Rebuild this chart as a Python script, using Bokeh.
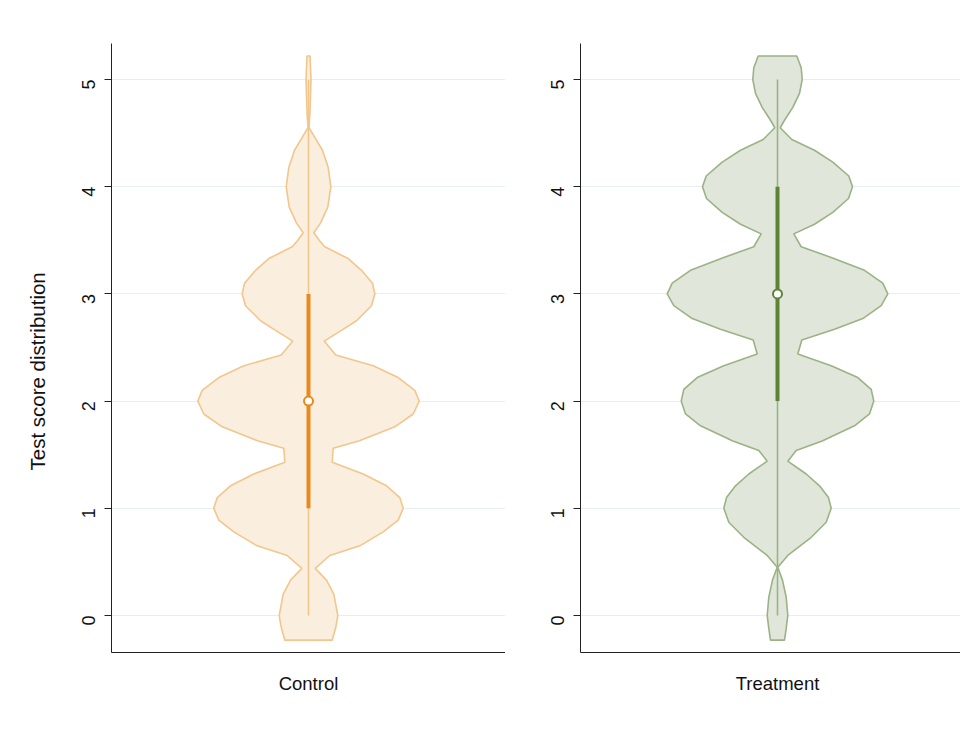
import math
from bokeh.plotting import figure
from bokeh.layouts import row
from bokeh.models import Range1d, FixedTicker, Title
from bokeh.embed import file_html
from bokeh.resources import INLINE

# ---- data ----
groups = ["Control", "Treatment"]
y_ticks = [0, 1, 2, 3, 4, 5]
y_title = "Test score distribution"

# violin outline: score value and kernel density (half width, arbitrary units)
control_y = [-0.23, -0.11, 0.0, 0.20, 0.33, 0.44, 0.56, 0.65, 0.78, 0.89, 1.0, 1.10, 1.21, 1.32,
             1.43, 1.56, 1.63, 1.76, 1.88, 2.0, 2.10, 2.22, 2.33, 2.43, 2.56, 2.66, 2.75, 2.89,
             3.0, 3.10, 3.22, 3.33, 3.44, 3.50, 3.57, 3.66, 3.81, 4.0, 4.18, 4.34, 4.46, 4.55,
             4.70, 5.0, 5.22]
control_dens = [0.237, 0.273, 0.293, 0.253, 0.180, 0.067, 0.213, 0.513, 0.747, 0.897, 0.947,
                0.913, 0.780, 0.547, 0.237, 0.247, 0.510, 0.863, 1.047, 1.107, 1.063, 0.897,
                0.647, 0.273, 0.157, 0.330, 0.480, 0.630, 0.663, 0.640, 0.530, 0.397, 0.163,
                0.107, 0.053, 0.120, 0.193, 0.223, 0.197, 0.140, 0.063, 0.005, 0.015, 0.025,
                0.015]

treat_y = [-0.23, -0.12, 0.0, 0.17, 0.33, 0.45, 0.56, 0.73, 0.87, 1.0, 1.10, 1.21, 1.32, 1.44,
           1.54, 1.63, 1.66, 1.77, 1.88, 2.0, 2.11, 2.22, 2.33, 2.44, 2.57, 2.67, 2.77, 2.89,
           3.0, 3.10, 3.22, 3.34, 3.44, 3.56, 3.65, 3.76, 3.89, 4.0, 4.10, 4.23, 4.34, 4.44,
           4.55, 4.62, 4.74, 4.87, 5.0, 5.11, 5.22]
treat_dens = [0.070, 0.087, 0.103, 0.087, 0.050, 0.003, 0.103, 0.337, 0.487, 0.537, 0.510,
              0.420, 0.287, 0.103, 0.187, 0.453, 0.520, 0.770, 0.920, 0.963, 0.937, 0.803,
              0.537, 0.203, 0.243, 0.570, 0.853, 1.037, 1.103, 1.053, 0.870, 0.537, 0.237,
              0.163, 0.370, 0.553, 0.710, 0.750, 0.713, 0.553, 0.370, 0.143, 0.027, 0.070,
              0.153, 0.220, 0.247, 0.237, 0.193]

# box statistics
whisker_lo = [0, 0]
whisker_hi = [5, 5]
q1 = [1, 2]
q3 = [3, 4]
medians = [2, 3]

# ---- style ----
FONT = "Liberation Sans"
fills = ["#faeede", "#e0e7da"]
edges = ["#f2c68c", "#9bb285"]
bars = ["#e8891c", "#5e8236"]

Y0, Y1 = -0.345, 5.336


def make_panel(i, ys, dens, xr, border_left, frame_w, show_label):
    p = figure(output_backend="svg", toolbar_location=None,
               x_range=Range1d(*xr), y_range=Range1d(Y0, Y1),
               frame_width=frame_w, frame_height=609,
               min_border_left=border_left, min_border_right=0,
               min_border_top=43, min_border_bottom=60,
               background_fill_color="white", border_fill_color="white")
    p.outline_line_color = None
    # violin polygon
    xs = [-d for d in dens] + [d for d in reversed(dens)]
    yy = list(ys) + list(reversed(ys))
    p.patch(xs, yy, fill_color=fills[i], fill_alpha=1.0, line_color=edges[i], line_width=1.6)
    # whisker
    p.segment(x0=[0], y0=[whisker_lo[i]], x1=[0], y1=[whisker_hi[i]],
              line_color=edges[i], line_width=1.6)
    # IQR
    p.segment(x0=[0], y0=[q1[i]], x1=[0], y1=[q3[i]], line_color=bars[i], line_width=4)
    # median
    p.scatter(x=[0], y=[medians[i]], size=9, marker="circle", fill_color="white",
              line_color=bars[i], line_width=2)

    p.xgrid.visible = False
    p.ygrid.ticker = FixedTicker(ticks=y_ticks)
    p.ygrid.grid_line_color = "#e6eef0"
    p.ygrid.grid_line_width = 1.2
    p.ygrid.level = "underlay"

    ya = p.yaxis[0]
    ya.ticker = FixedTicker(ticks=y_ticks)
    ya.minor_tick_line_color = None
    ya.major_tick_in = 0
    ya.major_tick_out = 7
    ya.major_label_standoff = 16
    ya.major_label_orientation = math.pi / 2
    ya.major_label_text_font = FONT
    ya.major_label_text_font_size = "18px"
    ya.major_label_text_color = "#111111"
    ya.axis_line_color = "#222222"
    ya.major_tick_line_color = "#222222"
    if show_label:
        # axis title, sitting a little below the middle of the axis as in the reference
        t = Title(text=y_title, align="left", offset=182, standoff=47,
                  text_font=FONT, text_font_size="20.5px", text_font_style="normal",
                  text_color="#111111")
        p.add_layout(t, "left")

    xa = p.xaxis[0]
    xa.ticker = FixedTicker(ticks=[0])
    xa.major_label_overrides = {0: groups[i]}
    xa.minor_tick_line_color = None
    xa.major_tick_line_color = None
    xa.major_tick_in = 0
    xa.major_tick_out = 0
    xa.major_label_standoff = 20
    xa.major_label_text_font = FONT
    xa.major_label_text_font_size = "18.5px"
    xa.major_label_text_color = "#111111"
    xa.axis_line_color = "#222222"
    return p


p1 = make_panel(0, control_y, control_dens, (-1.97, 1.97), 111, 394, True)
p2 = make_panel(1, treat_y, treat_dens, (-1.97, 1.83), 75, 380, False)

layout = row(p1, p2, spacing=0)

with open("out.html", "w") as f:
    f.write(file_html(layout, INLINE))
